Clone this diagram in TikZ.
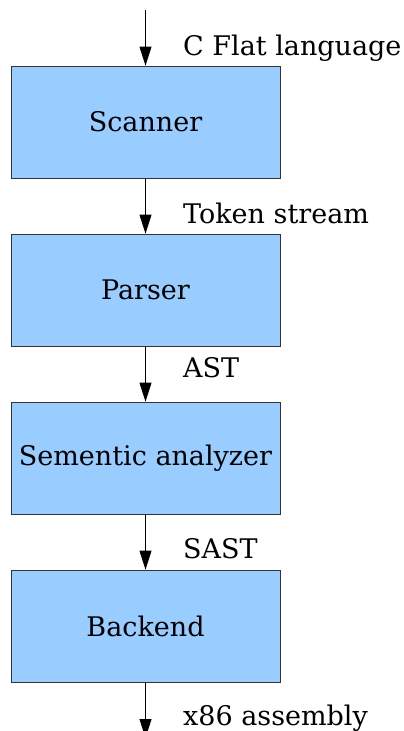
\documentclass[tikz,border=0pt]{standalone}
\usepackage{fontspec}
\setmainfont{DejaVu Serif}
\usetikzlibrary{arrows.meta}
\definecolor{boxfill}{HTML}{99CCFF}
\definecolor{boxline}{HTML}{333333}
\tikzset{
  stage/.style={draw=boxline, line width=0.8pt, fill=boxfill, minimum width=269pt, minimum height=112pt, inner sep=0pt, font=\fontsize{27pt}{32pt}\selectfont},
  lbl/.style={anchor=base west, inner sep=0pt, font=\fontsize{27pt}{32pt}\selectfont},
  flow/.style={line width=0.8pt, -{Triangle[width=12pt,length=19pt]}}
}
\begin{document}
\begin{tikzpicture}[x=1pt,y=-1pt]
\useasboundingbox (0,0) rectangle (404,731);
\node[stage] (scan) at (145.5,122) {Scanner};
\node[stage] (pars) at (145.5,290) {Parser};
\node[stage] (sem) at (145.5,458) {Sementic analyzer};
\node[stage] (back) at (145.5,626) {Backend};
\coordinate (in) at (145.5,10);
\coordinate (out) at (145.5,738);
\draw[flow] (in) -- (scan.north);
\draw[flow] (scan.south) -- (pars.north);
\draw[flow] (pars.south) -- (sem.north);
\draw[flow] (sem.south) -- (back.north);
\draw[flow] (back.south) -- (out);
\node[lbl] (l1) at (183,55) {C Flat language};
\node[lbl] (l2) at (183,223) {Token stream};
\node[lbl] (l3) at (183,377) {AST};
\node[lbl] (l4) at (183,558) {SAST};
\node[lbl] (l5) at (183,725) {x86 assembly};
\end{tikzpicture}
\end{document}
